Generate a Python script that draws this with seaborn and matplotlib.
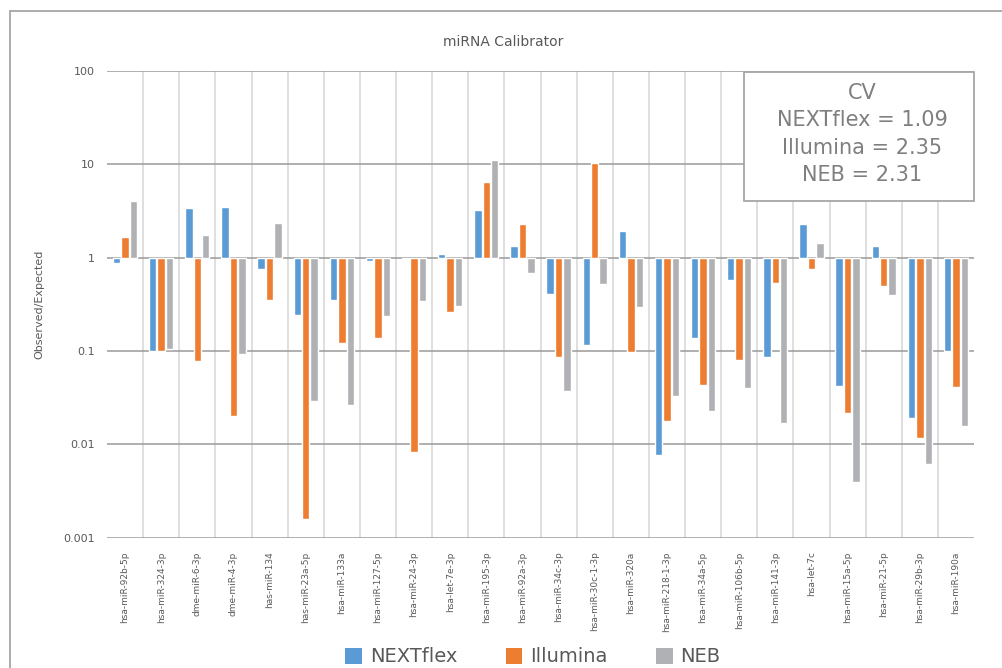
#!/usr/bin/env python3

import numpy as np
import pandas as pd
import matplotlib
matplotlib.use('Agg')
import matplotlib.pyplot as plt
import seaborn as sns
from matplotlib.patches import Rectangle
from matplotlib.lines import Line2D

# Données (Observed/Expected, échelle log)
mirnas = [
    'hsa-miR-92b-5p', 'hsa-miR-324-3p', 'dme-miR-6-3p', 'dme-miR-4-3p',
    'has-miR-134', 'has-miR-23a-5p', 'hsa-miR-133a', 'hsa-miR-127-5p',
    'hsa-miR-24-3p', 'hsa-let-7e-3p', 'hsa-miR-195-3p', 'hsa-miR-92a-3p',
    'hsa-miR-34c-3p', 'hsa-miR-30c-1-3p', 'hsa-miR-320a', 'hsa-miR-218-1-3p',
    'hsa-miR-34a-5p', 'hsa-miR-106b-5p', 'hsa-miR-141-3p', 'hsa-let-7c',
    'hsa-miR-15a-5p', 'hsa-miR-21-5p', 'hsa-miR-29b-3p', 'hsa-miR-190a',
]
nextflex = [0.87, 0.10, 3.40, 3.47, 0.76, 0.243, 0.35, 0.92,
            0.97, 1.10, 3.25, 1.335, 0.408, 0.116, 1.93, 0.0077,
            0.139, 0.577, 0.087, 2.30, 0.042, 1.335, 0.0191, 0.10]
illumina = [1.67, 0.10, 0.077, 0.020, 0.35, 0.00157, 0.122, 0.138,
            0.0083, 0.264, 6.48, 2.30, 0.087, 10.4, 0.098, 0.0178,
            0.043, 0.080, 0.54, 0.757, 0.0218, 0.50, 0.0117, 0.041]
neb = [4.04, 0.104, 1.74, 0.092, 2.35, 0.029, 0.026, 0.237,
       0.346, 0.30, 11.1, 0.69, 0.037, 0.52, 0.296, 0.033,
       0.0229, 0.040, 0.017, 1.44, 0.0039, 0.40, 0.0062, 0.0157]
series = ['NEXTflex', 'Illumina', 'NEB']
colors = ['#5B9BD5', '#ED7D31', '#B0B1B4']
cv_lines = ['CV', 'NEXTflex = 1.09', 'Illumina = 2.35', 'NEB = 2.31']
y_ticks = [0.001, 0.01, 0.1, 1, 10, 100]
y_tick_labels = ['0.001', '0.01', '0.1', '1', '10', '100']

sns.set_style('white')
plt.rcParams['font.family'] = ['DejaVu Sans']
text_col = '#595959'

df = pd.DataFrame({
    'miRNA': mirnas * 3,
    'kit': [s for s in series for _ in mirnas],
    'ratio': nextflex + illumina + neb,
})
# barres partant de 1 : on trace log10(ratio)
df['log_ratio'] = np.log10(df['ratio'])

fig = plt.figure(figsize=(10.02, 6.68), dpi=100)
ax = fig.add_axes([107 / 1002, 1 - 537.5 / 668, 867 / 1002, (537.5 - 71) / 668])

sns.barplot(data=df, x='miRNA', y='log_ratio', hue='kit', hue_order=series,
            palette=colors, width=0.7, gap=0.12, saturation=1,
            ax=ax, legend=False, zorder=3)

ax.set_ylim(-3, 2)
ax.set_xlim(-0.5, len(mirnas) - 0.5)
ax.set_yticks(np.log10(y_ticks))
ax.set_yticklabels(y_tick_labels)
ax.set_xticks(range(len(mirnas)))
ax.set_xticklabels(mirnas, rotation=90, fontsize=6.5, color=text_col)
ax.set_xticks(np.arange(0.5, len(mirnas) - 1, 1.0), minor=True)
ax.tick_params(axis='x', which='major', length=0, pad=10)
ax.tick_params(axis='x', which='minor', length=69, width=1.2,
               color='#d9d9d9', direction='out')
ax.tick_params(axis='y', length=0, pad=9, labelsize=8, labelcolor=text_col)
ax.grid(axis='y', which='major', color='#9a9a9a', linewidth=1.1, zorder=1)
ax.grid(axis='x', which='minor', color='#d9d9d9', linewidth=1.2, zorder=0)
ax.grid(axis='x', which='major', visible=False)
ax.set_axisbelow(True)
for s in ax.spines.values():
    s.set_visible(False)

ax.set_xlabel('')
ax.set_ylabel('Observed/Expected', fontsize=8, color=text_col)
ax.yaxis.set_label_coords(-(107 - 44) / 867, 0.5)

fig.text(503 / 1002, 1 - 42 / 668, 'miRNA Calibrator', ha='center',
         va='center', fontsize=10, color=text_col)

# encadré CV
fig.add_artist(Rectangle((744 / 1002, 1 - 201 / 668), 230 / 1002, 129 / 668,
                         transform=fig.transFigure, facecolor='white',
                         edgecolor='#a6a6a6', linewidth=1.3, zorder=10))
for i, line in enumerate(cv_lines):
    fig.text(862 / 1002, 1 - (93 + 27.3 * i) / 668, line, ha='center',
             va='center', fontsize=15, color='#7f7f7f', zorder=11)

# cadre extérieur du graphique (coupé à droite et en bas)
x0, y0 = 9.5 / 1002, 1 - 11 / 668
fig.add_artist(Line2D([x0, 1.0], [y0, y0], transform=fig.transFigure,
                      color='#a6a6a6', linewidth=1.3, zorder=9))
fig.add_artist(Line2D([x0, x0], [0.0, y0], transform=fig.transFigure,
                      color='#a6a6a6', linewidth=1.3, zorder=9))

handles = [Rectangle((0, 0), 1, 1, facecolor=c, edgecolor='none') for c in colors]
fig.legend(handles, series, loc='center', bbox_to_anchor=(533 / 1002, 1 - 657 / 668),
           ncol=3, frameon=False, fontsize=14, labelcolor=text_col,
           handlelength=0.85, handleheight=0.85, handletextpad=0.4,
           columnspacing=2.5)

fig.savefig('out.png', dpi=100)
plt.close(fig)
